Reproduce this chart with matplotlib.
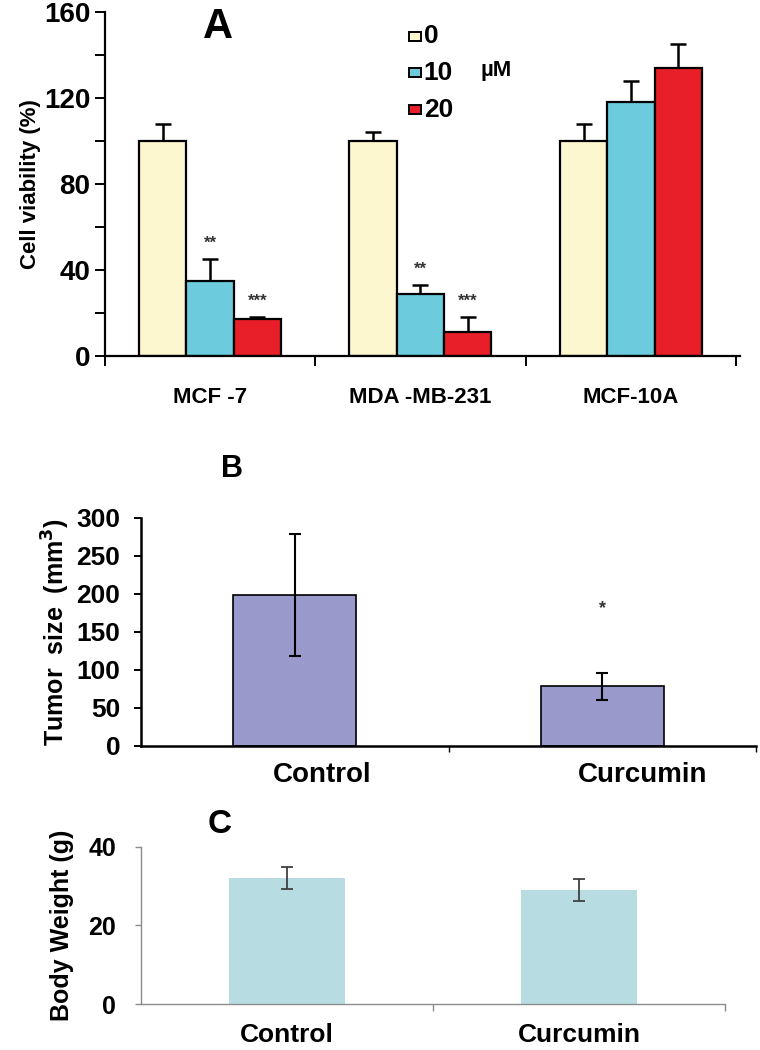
import numpy as np
import matplotlib
matplotlib.use("Agg")
import matplotlib.pyplot as plt
from matplotlib import font_manager
from matplotlib.patches import Rectangle

# ---- data ----
cells = ["MCF -7", "MDA -MB-231", "MCF-10A"]
doses = ["0", "10", "20"]
viab = [[100, 35, 17],     # MCF-7
        [100, 29, 11],     # MDA-MB-231
        [100, 118, 134]]   # MCF-10A
viab_err = [[8, 10, 1],
            [4, 4, 7],
            [8, 10, 11]]
viab_stars = [["", "**", "***"],
              ["", "**", "***"],
              ["", "", ""]]

groups = ["Control", "Curcumin"]
tumor = [198, 78]
tumor_err = [80, 18]
weight = [32, 29]
weight_err = [2.8, 2.7]

# narrow bold font if it is there, Arial-like otherwise
installed = {f.name for f in font_manager.fontManager.ttflist}
nname = "Liberation Sans Narrow" if "Liberation Sans Narrow" in installed else "Liberation Sans"
narrow = [nname, "DejaVu Sans"]
wide = ["Liberation Sans", "DejaVu Sans"]
plt.rcParams["font.family"] = narrow
plt.rcParams["font.weight"] = "bold"

dose_colors = ["#fdf7d0", "#6ccbdc", "#e81e28"]

fig = plt.figure(figsize=(7.6, 10.5), dpi=100)

# ---- panel A ----
ax = fig.add_axes([0.138, 0.661, 0.836, 0.3276])
viab = np.array(viab)
viab_err = np.array(viab_err)
x = np.arange(len(cells))
w = 0.225
for j in range(3):
    xs = x + (j - 1) * w
    ax.bar(xs, viab[:, j], w, color=dose_colors[j], edgecolor="black",
           linewidth=1.6, zorder=2)
    ax.errorbar(xs, viab[:, j], yerr=[np.zeros(3), viab_err[:, j]], fmt="none",
                ecolor="black", elinewidth=1.8, capsize=6, capthick=1.8, zorder=1)
    for i in range(3):
        s = viab_stars[i][j]
        if s:
            ax.annotate(s, (xs[i], viab[i, j] + viab_err[i, j]), xytext=(0, 6),
                        textcoords="offset points", ha="center", va="bottom",
                        fontsize=12, color="#333333", family=wide)
ax.set_xlim(-0.5, 2.52)
ax.set_ylim(0, 160)
ax.set_yticks(np.arange(0, 161, 40))
ax.set_yticks(np.arange(0, 161, 20), minor=True)
ax.set_xticks([-0.5, 0.5, 1.5, 2.5])
ax.set_xticklabels([])
ax.set_xticks(x, minor=True)
ax.set_xticklabels(cells, minor=True, fontsize=16)
for s in ["top", "right"]:
    ax.spines[s].set_visible(False)
for s in ["left", "bottom"]:
    ax.spines[s].set_linewidth(1.6)
ax.tick_params(axis="y", which="both", direction="out", length=7, width=1.4,
               labelsize=20)
ax.tick_params(axis="x", which="major", direction="out", length=7, width=1.4)
ax.tick_params(axis="x", which="minor", length=0, pad=22)
ax.set_ylabel("Cell viability (%)", fontsize=16, fontweight="bold", family=wide,
              labelpad=2)
ax.text(0.178, 0.955, "A", transform=ax.transAxes, fontsize=30, fontweight="bold",
        family=wide, ha="center", va="center")
# legend
for j, lab in enumerate(doses):
    yy = 0.93 - j * 0.107
    ax.add_patch(Rectangle((0.478, yy - 0.013), 0.02, 0.026, transform=ax.transAxes,
                           facecolor=dose_colors[j], edgecolor="black", lw=1.4,
                           clip_on=False))
    ax.text(0.502, yy, lab, transform=ax.transAxes, fontsize=19,
            ha="left", va="center")
ax.text(0.615, 0.83, "µM", transform=ax.transAxes, fontsize=16,
        ha="center", va="center")

# ---- panel B ----
bx = fig.add_axes([0.1855, 0.2898, 0.8095, 0.2172])
xb = np.arange(len(groups))
bx.bar(xb, tumor, 0.4, color="#9999cc", edgecolor="black", linewidth=1.2, zorder=2)
bx.errorbar(xb, tumor, yerr=tumor_err, fmt="none", ecolor="black", elinewidth=1.5,
            capsize=4, capthick=1.5, zorder=3)
bx.annotate("*", (1, tumor[1] + tumor_err[1]), xytext=(0, 40),
            textcoords="offset points", ha="center", va="bottom", fontsize=13,
            color="#333333", family=wide)
bx.set_xlim(-0.5, 1.5)
bx.set_ylim(0, 300)
bx.set_yticks(np.arange(0, 301, 50))
bx.set_xticks([0.5, 1.5])
bx.set_xticklabels([])
# category labels sit a bit right of the bars in the original
for i, (lab, dx) in enumerate(zip(groups, [20, 29])):
    bx.annotate(lab, (xb[i], 0), xycoords=("data", "axes fraction"),
                xytext=(dx, -12), textcoords="offset points",
                ha="center", va="top", fontsize=20)
for s in ["top", "right"]:
    bx.spines[s].set_visible(False)
for s in ["left", "bottom"]:
    bx.spines[s].set_linewidth(1.8)
bx.tick_params(axis="y", direction="out", length=5, width=1.4, pad=10, labelsize=19)
bx.tick_params(axis="x", which="major", direction="out", length=4, width=1.0)
bx.set_ylabel("Tumor  size  (mm$^\\mathbf{3}$)", fontsize=18, fontweight="bold",
              family=wide, labelpad=3)
fig.text(0.305, 0.553, "B", fontsize=22, fontweight="bold", family=wide,
         ha="center", va="center")

# ---- panel C ----
cx = fig.add_axes([0.1855, 0.0438, 0.7685, 0.1498])
xc = np.arange(len(groups))
cx.bar(xc, weight, 0.4, color="#b7dde2", zorder=2)
cx.errorbar(xc, weight, yerr=weight_err, fmt="none", ecolor="#404040",
            elinewidth=1.3, capsize=4, capthick=1.3, zorder=3)
cx.set_xlim(-0.5, 1.5)
cx.set_ylim(0, 40)
cx.set_yticks([0, 20, 40])
cx.set_xticks([0.5, 1.5])
cx.set_xticklabels([])
cx.set_xticks(xc, minor=True)
cx.set_xticklabels(groups, minor=True, fontsize=19)
for s in ["top", "right"]:
    cx.spines[s].set_visible(False)
for s in ["left", "bottom"]:
    cx.spines[s].set_linewidth(1.0)
    cx.spines[s].set_color("#8c8c8c")
cx.tick_params(axis="y", direction="out", length=4, width=1.0, color="#8c8c8c",
               pad=14, labelsize=18)
cx.tick_params(axis="x", which="major", direction="out", length=5, width=1.0,
               color="#8c8c8c")
cx.tick_params(axis="x", which="minor", length=0, pad=14)
cx.set_ylabel("Body Weight (g)", fontsize=18, fontweight="bold", family=wide,
              labelpad=10)
fig.text(0.289, 0.215, "C", fontsize=24, family=narrow,
         ha="center", va="center")

fig.savefig("out.png", dpi=100)
